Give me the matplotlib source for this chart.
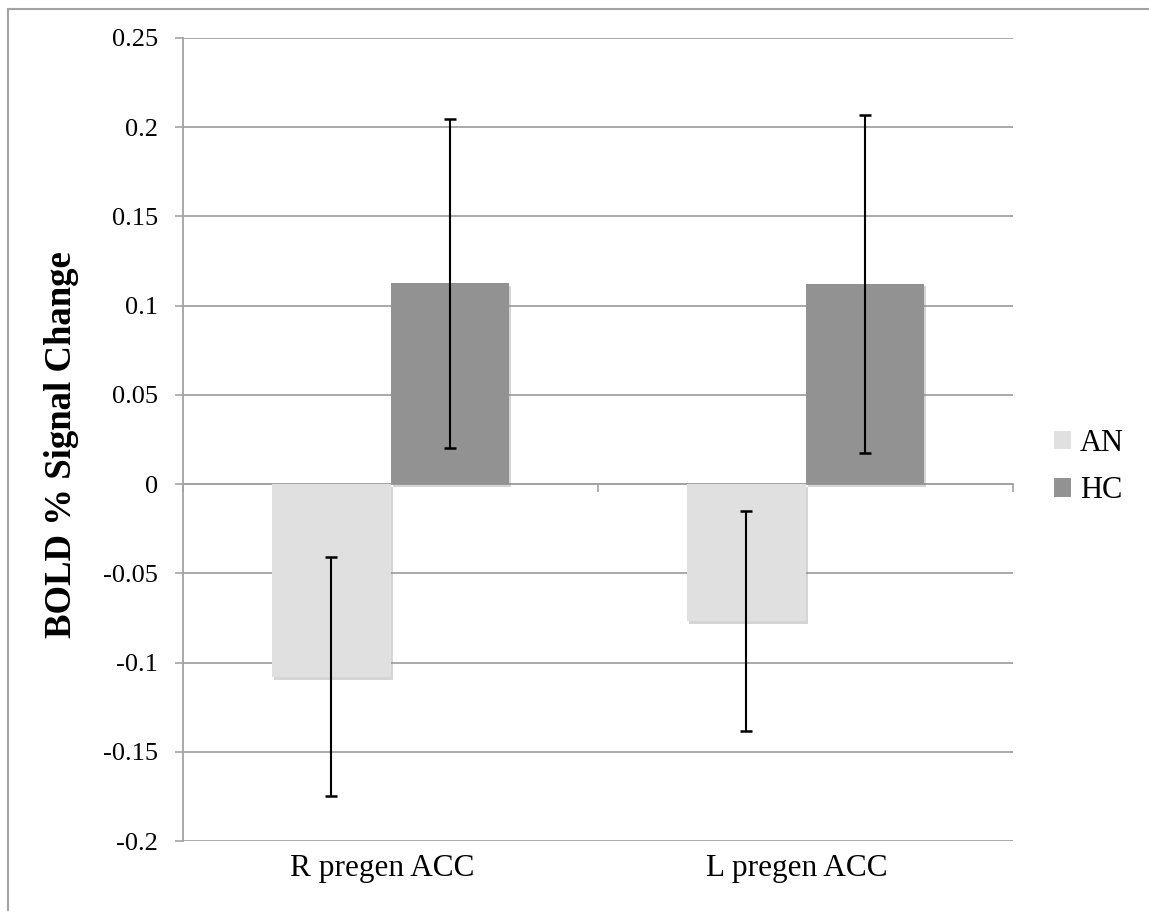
import numpy as np
import matplotlib
matplotlib.use("Agg")
import matplotlib.pyplot as plt
import matplotlib.patheffects as pe
import matplotlib.transforms as mtransforms
from matplotlib.patches import Patch
from matplotlib.lines import Line2D

# data
categories = ["R pregen ACC", "L pregen ACC"]
groups = ["AN", "HC"]
an_mean = [-0.108, -0.0766]
an_err = [0.067, 0.0616]
hc_mean = [0.1125, 0.1123]
hc_err = [0.0922, 0.0948]
yticks = [-0.2, -0.15, -0.1, -0.05, 0, 0.05, 0.1, 0.15, 0.2, 0.25]
ytick_labels = ["-0.2", "-0.15", "-0.1", "-0.05", "0", "0.05", "0.1", "0.15", "0.2", "0.25"]

an_color = "#e0e0e0"
hc_color = "#929292"
grid_color = "#a3a3a3"

plt.rcParams["font.family"] = ["Liberation Serif", "DejaVu Serif"]

fig = plt.figure(figsize=(11.49, 9.11), dpi=100)
ax = fig.add_axes([183 / 1149, 1 - 841 / 911, 830 / 1149, 803 / 911])

x = np.arange(len(categories)) + 0.5
w = 0.2855
shadow = [pe.SimplePatchShadow(offset=(1.5, -2), shadow_rgbFace="#888888", alpha=0.35), pe.Normal()]

b1 = ax.bar(x - w / 2, an_mean, w, color=an_color, zorder=3)
b2 = ax.bar(x + w / 2, hc_mean, w, color=hc_color, zorder=3)
for b in list(b1) + list(b2):
    b.set_path_effects(shadow)

ax.errorbar(x - w / 2, an_mean, yerr=an_err, fmt="none", ecolor="black",
            elinewidth=1.5, capsize=4.3, capthick=1.8, zorder=4)
ax.errorbar(x + w / 2, hc_mean, yerr=hc_err, fmt="none", ecolor="black",
            elinewidth=1.5, capsize=4.3, capthick=1.8, zorder=4)

ax.set_xlim(0, len(categories))
ax.set_ylim(-0.2, 0.25)
ax.set_yticks(yticks)
ax.set_yticklabels(ytick_labels, fontsize=19)
ax.yaxis.grid(True, color=grid_color, linewidth=1.3, zorder=1)
ax.set_axisbelow(True)
ax.tick_params(axis="y", direction="out", length=6, width=1.2, color=grid_color, pad=12)

for s in ["right", "top", "bottom"]:
    ax.spines[s].set_visible(False)
ax.spines["left"].set_color(grid_color)
ax.spines["left"].set_linewidth(1.3)

# category axis crosses at zero
ax.set_xticks([])
zero_frac = 0.2 / 0.45
sec = ax.secondary_xaxis(zero_frac)
sec.set_xticks(np.arange(len(categories) + 1))
sec.set_xticklabels([])
sec.tick_params(direction="out", length=6, width=1.2, color=grid_color)
sec.spines["bottom"].set_color(grid_color)
sec.spines["bottom"].set_linewidth(1.3)

trans = mtransforms.blended_transform_factory(ax.transData, fig.transFigure)
for xi, c in zip(x, categories):
    ax.text(xi - 0.02, 1 - 876 / 911, c, transform=trans, ha="center", va="baseline", fontsize=22.5)

fig.text(62 / 1149, 1 - 445 / 911, "BOLD % Signal Change", rotation=90, ha="center",
         va="center", fontsize=26.5, fontweight="bold")

handles = [Patch(facecolor=an_color), Patch(facecolor=hc_color)]
fig.legend(handles, groups, loc="center left", bbox_to_anchor=(1054 / 1149, 1 - 467 / 911),
           frameon=False, fontsize=22, handlelength=0.55, handleheight=0.55,
           handletextpad=0.3, labelspacing=0.6, borderpad=0, borderaxespad=0)

# outer frame of the chart area
fig.add_artist(Line2D([8 / 1149, 8 / 1149], [0, 1 - 9 / 911], transform=fig.transFigure,
                      color=grid_color, linewidth=1.5))
fig.add_artist(Line2D([8 / 1149, 1], [1 - 9 / 911, 1 - 9 / 911], transform=fig.transFigure,
                      color=grid_color, linewidth=1.5))

fig.savefig("out.png", dpi=100)
